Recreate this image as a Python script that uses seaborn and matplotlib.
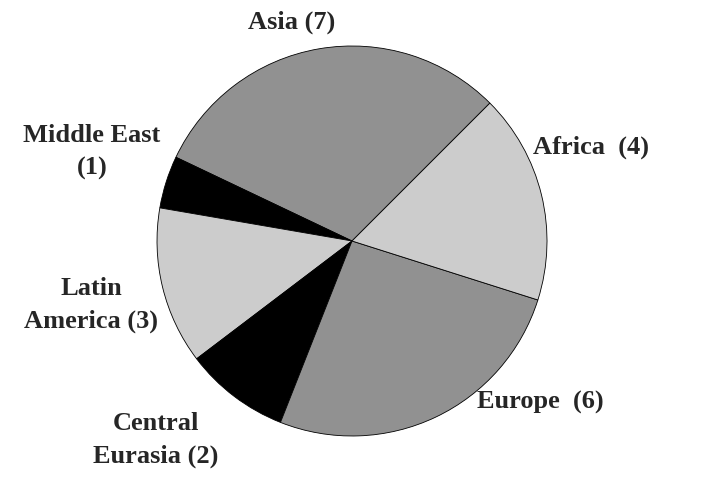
import matplotlib
matplotlib.use("Agg")
import matplotlib.pyplot as plt
import seaborn as sns

# --- Data ---
regions = ['Asia', 'Middle East', 'Latin America', 'Central Eurasia', 'Europe', 'Africa']
counts = [7, 1, 3, 2, 6, 4]
labels = ['Asia (7)', 'Middle East\n(1)', 'Latin\nAmerica (3)', 'Central\nEurasia (2)',
          'Europe  (6)', 'Africa  (4)']

# --- Style ---
sns.set_theme(style="white")
plt.rcParams['font.family'] = ['Liberation Serif', 'DejaVu Serif']
colors = ['#919191', '#000000', '#cccccc', '#000000', '#919191', '#cccccc']

fig = plt.figure(figsize=(7.06, 4.83), dpi=100)
ax = fig.add_axes([0.2224, 0.0973, 0.5524, 0.8075])

ax.pie(
    counts,
    colors=colors,
    startangle=45,
    counterclock=True,
    radius=1,
    wedgeprops={'edgecolor': 'black', 'linewidth': 0.6},
)

# label positions (in pie radius units)
label_pos = [(-0.308, 1.123), (-1.333, 0.456), (-1.338, -0.328),
             (-1.005, -1.021), (0.964, -0.826), (1.226, 0.482)]
for txt, (x, y) in zip(labels, label_pos):
    ax.text(x, y, txt, ha='center', va='center', fontsize=19,
            fontweight='bold', linespacing=1.55, clip_on=False)

ax.set_xlim(-1, 1)
ax.set_ylim(-1, 1)
ax.set_aspect('equal')
ax.axis('off')

plt.savefig('out.png', dpi=100)
plt.close()
